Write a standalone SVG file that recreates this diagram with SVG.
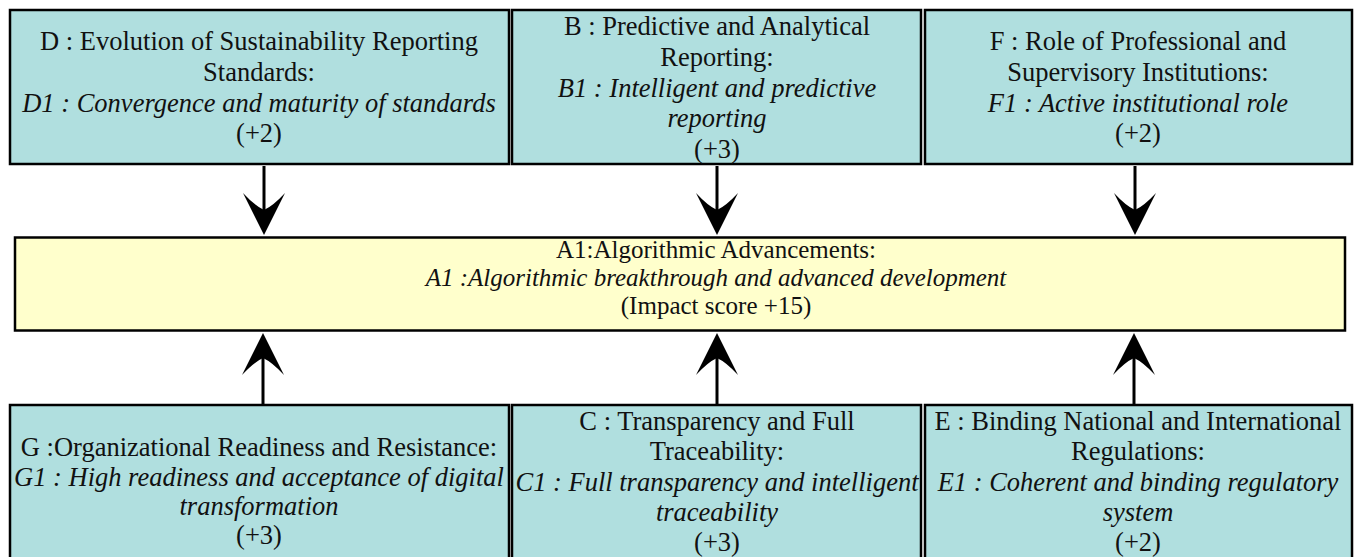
<svg xmlns="http://www.w3.org/2000/svg" width="1356" height="557" viewBox="0 0 1356 557">
  <style>
    .box { fill: #b0dfdf; stroke: #000; stroke-width: 2.5; }
    .core { fill: #ffffcc; stroke: #000; stroke-width: 2.5; }
    text { font-family: "Liberation Serif", "Times New Roman", serif; fill: #111; text-anchor: middle; }
    .t { font-size: 26.5px; }
    .c { font-size: 25px; }
    .i { font-style: italic; }
    .edge { stroke: #000; stroke-width: 3; fill: none; marker-end: url(#head); }
  </style>
  <defs>
    <marker id="head" markerUnits="userSpaceOnUse" viewBox="0 0 42 44" refX="17" refY="22" markerWidth="42" markerHeight="44" orient="auto">
      <path d="M42,22 L0,1 Q13,13 17,22 Q13,31 0,43 Z" fill="#000"/>
    </marker>
  </defs>

  <rect width="1356" height="557" fill="#fff"/>

  <!-- connectors -->
  <g id="connectors">
    <line class="edge" x1="264" y1="166" x2="264" y2="210"/>
    <line class="edge" x1="717" y1="166" x2="717" y2="210"/>
    <line class="edge" x1="1135" y1="166" x2="1135" y2="210"/>
    <line class="edge" x1="263" y1="404" x2="263" y2="358"/>
    <line class="edge" x1="717" y1="404" x2="717" y2="358"/>
    <line class="edge" x1="1134" y1="404" x2="1134" y2="358"/>
  </g>

  <!-- top row -->
  <g id="node-D">
    <rect class="box" x="10" y="10" width="499" height="154"/>
    <text class="t" x="259" y="50">D : Evolution of Sustainability Reporting</text>
    <text class="t" x="259" y="81">Standards:</text>
    <text class="t i" x="259" y="112">D1 : Convergence and maturity of standards</text>
    <text class="t" x="259" y="142">(+2)</text>
  </g>
  <g id="node-B">
    <rect class="box" x="512" y="10" width="409" height="154"/>
    <text class="t" x="717" y="35">B : Predictive and Analytical</text>
    <text class="t" x="717" y="66">Reporting:</text>
    <text class="t i" x="717" y="97">B1 : Intelligent and predictive</text>
    <text class="t i" x="717" y="127">reporting</text>
    <text class="t" x="717" y="158">(+3)</text>
  </g>
  <g id="node-F">
    <rect class="box" x="925" y="10" width="427" height="154"/>
    <text class="t" x="1138" y="50">F : Role of Professional and</text>
    <text class="t" x="1138" y="81">Supervisory Institutions:</text>
    <text class="t i" x="1138" y="112">F1 : Active institutional role</text>
    <text class="t" x="1138" y="142">(+2)</text>
  </g>

  <!-- central outcome -->
  <g id="node-A1">
    <rect class="core" x="15" y="237.5" width="1330" height="93"/>
    <text class="c" x="716" y="258">A1:Algorithmic Advancements:</text>
    <text class="c i" x="716" y="286">A1 :Algorithmic breakthrough and advanced development</text>
    <text class="c" x="716" y="314">(Impact score +15)</text>
  </g>

  <!-- bottom row -->
  <g id="node-G">
    <rect class="box" x="10" y="405" width="499" height="170"/>
    <text class="t" x="259" y="456">G :Organizational Readiness and Resistance:</text>
    <text class="t i" x="259" y="486">G1 : High readiness and acceptance of digital</text>
    <text class="t i" x="259" y="515">transformation</text>
    <text class="t" x="259" y="544">(+3)</text>
  </g>
  <g id="node-C">
    <rect class="box" x="512" y="405" width="409" height="170"/>
    <text class="t" x="717" y="430">C : Transparency and Full</text>
    <text class="t" x="717" y="460">Traceability:</text>
    <text class="t i" x="717" y="491">C1 : Full transparency and intelligent</text>
    <text class="t i" x="717" y="521">traceability</text>
    <text class="t" x="717" y="551">(+3)</text>
  </g>
  <g id="node-E">
    <rect class="box" x="925" y="405" width="427" height="170"/>
    <text class="t" x="1138" y="430">E : Binding National and International</text>
    <text class="t" x="1138" y="460">Regulations:</text>
    <text class="t i" x="1138" y="491">E1 : Coherent and binding regulatory</text>
    <text class="t i" x="1138" y="521">system</text>
    <text class="t" x="1138" y="551">(+2)</text>
  </g>
</svg>
